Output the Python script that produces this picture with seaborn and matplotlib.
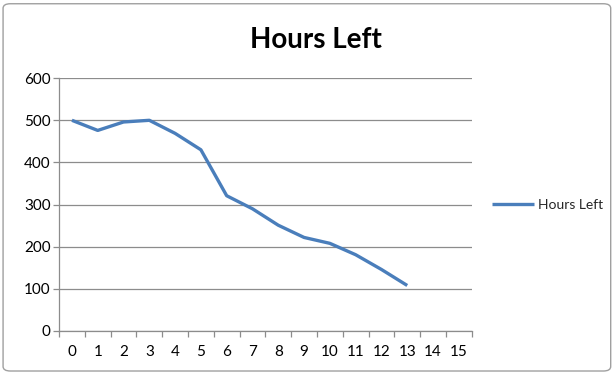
import matplotlib
matplotlib.use("Agg")
import matplotlib.pyplot as plt
from matplotlib.patches import FancyBboxPatch
import seaborn as sns
import pandas as pd

# Remaining hours per sprint day
days = list(range(14))
hours_left = [500, 476, 496, 500, 469, 430, 321, 290, 251, 222, 208, 181, 146, 108]
categories = [str(d) for d in range(16)]
y_ticks = [0, 100, 200, 300, 400, 500, 600]

sns.set_theme(style="white")
plt.rcParams["font.family"] = ["Lato", "DejaVu Sans"]

df = pd.DataFrame({"Day": days, "Hours Left": hours_left})

fig = plt.figure(figsize=(6.15, 3.74), dpi=100)
ax = fig.add_axes([0.096, 0.115, 0.671, 0.676])

# Rounded chart frame
frame = FancyBboxPatch((0.005, 0.008), 0.988, 0.982,
                       boxstyle="round,pad=0,rounding_size=0.012",
                       transform=fig.transFigure, facecolor="white",
                       edgecolor="#a0a0a0", linewidth=1.0, zorder=-10)
fig.patches.append(frame)

sns.lineplot(data=df, x="Day", y="Hours Left", ax=ax, color="#4A7EBB",
             linewidth=2.4, label="Hours Left", solid_capstyle="butt")

ax.set_xlim(-0.5, 15.5)
ax.set_ylim(0, 600)
ax.set_yticks(y_ticks)
ax.set_xticks(range(16))
ax.set_xticklabels(categories)
ax.set_xticks([k - 0.5 for k in range(17)], minor=True)

for y in y_ticks:
    ax.axhline(y, color="#8c8c8c", linewidth=0.9, zorder=0)

for side in ["top", "right"]:
    ax.spines[side].set_visible(False)
ax.spines["left"].set_color("#8c8c8c")
ax.spines["bottom"].set_color("#8c8c8c")
ax.spines["left"].set_linewidth(0.9)
ax.spines["bottom"].set_linewidth(0.9)

ax.tick_params(axis="x", which="major", length=0, labelsize=11, pad=10, colors="black")
ax.tick_params(axis="x", which="minor", length=4, width=0.9, color="#8c8c8c", direction="out", bottom=True)
ax.tick_params(axis="y", which="major", length=4, width=0.9, color="#8c8c8c", direction="out",
               labelsize=11, pad=2, left=True, labelcolor="black")

ax.set_xlabel("")
ax.set_ylabel("")

fig.text(0.513, 0.893, "Hours Left", ha="center", va="center",
         fontsize=20, fontweight="bold", color="black")

leg = ax.legend(loc="center left", bbox_to_anchor=(1.02, 0.5), frameon=False,
                fontsize=10, handlelength=3.0, handletextpad=0.3)

fig.savefig("out.png", dpi=100)
